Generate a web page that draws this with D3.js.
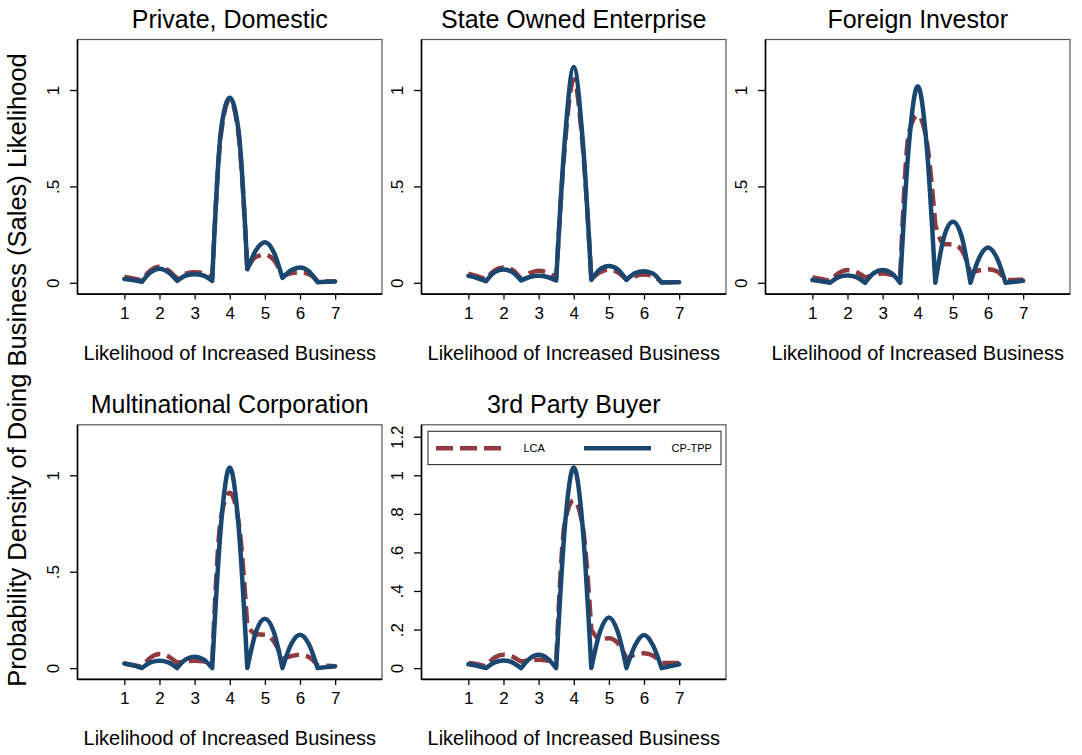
<!DOCTYPE html>
<html>
<head>
<meta charset="utf-8">
<script src="https://cdn.jsdelivr.net/npm/d3@7"></script>
<style>
  body { margin: 0; background: #fff; }
  svg { display: block; }
  text { font-family: "Liberation Sans", Arial, Helvetica, sans-serif; fill: #000; }
</style>
</head>
<body>
<svg id="chart" width="1082" height="755"></svg>
<script>
// Evaluation grid of the response scale (quarter steps from 1 to 7)
const gridX = [1, 1.25, 1.5, 1.75, 2, 2.25, 2.5, 2.75, 3, 3.25, 3.5, 3.75, 4,
               4.25, 4.5, 4.75, 5, 5.25, 5.5, 5.75, 6, 6.25, 6.5, 6.75, 7];

const panelTitles = ["Private, Domestic", "State Owned Enterprise", "Foreign Investor",
                     "Multinational Corporation", "3rd Party Buyer"];

// Density estimates per buyer type
const lcaPrivate = [0.030, 0.022, 0.012, 0.065, 0.083, 0.065, 0.022, 0.048, 0.055, 0.050, 0.025, 0.770, 0.950,
                    0.770, 0.070, 0.135, 0.145, 0.120, 0.035, 0.050, 0.054, 0.045, 0.010, 0.008, 0.007];
const tppPrivate = [0.020, 0.015, 0.005, 0.055, 0.073, 0.055, 0.010, 0.038, 0.045, 0.038, 0.010, 0.790, 0.960,
                    0.790, 0.070, 0.170, 0.210, 0.160, 0.025, 0.065, 0.080, 0.060, 0.003, 0.005, 0.007];

const lcaState = [0.048, 0.035, 0.017, 0.065, 0.080, 0.068, 0.020, 0.050, 0.062, 0.055, 0.024, 0.720, 1.055,
                  0.720, 0.020, 0.055, 0.069, 0.055, 0.017, 0.035, 0.043, 0.035, 0.003, 0.003, 0.003];
const tppState = [0.036, 0.025, 0.008, 0.055, 0.069, 0.055, 0.012, 0.030, 0.036, 0.030, 0.012, 0.750, 1.120,
                  0.750, 0.015, 0.070, 0.087, 0.070, 0.015, 0.050, 0.060, 0.048, 0.002, 0.003, 0.003];

const lcaForeign = [0.028, 0.020, 0.010, 0.050, 0.066, 0.055, 0.028, 0.040, 0.048, 0.042, 0.030, 0.780, 0.870,
                    0.740, 0.300, 0.200, 0.200, 0.170, 0.050, 0.065, 0.070, 0.060, 0.014, 0.015, 0.017];
const tppForeign = [0.014, 0.008, 0.000, 0.030, 0.038, 0.030, 0.000, 0.050, 0.066, 0.050, 0.000, 0.720, 1.020,
                    0.720, 0.000, 0.240, 0.317, 0.240, 0.000, 0.130, 0.183, 0.130, 0.000, 0.005, 0.010];

const lcaMultinational = [0.024, 0.015, 0.007, 0.055, 0.073, 0.060, 0.028, 0.035, 0.038, 0.035, 0.028, 0.780, 0.910,
                          0.760, 0.220, 0.175, 0.173, 0.140, 0.048, 0.062, 0.069, 0.058, 0.014, 0.012, 0.010];
const tppMultinational = [0.024, 0.015, 0.000, 0.030, 0.038, 0.030, 0.000, 0.045, 0.059, 0.045, 0.000, 0.740, 1.040,
                          0.740, 0.000, 0.190, 0.256, 0.190, 0.000, 0.125, 0.173, 0.125, 0.000, 0.005, 0.010];

const lcaBuyer = [0.026, 0.020, 0.009, 0.055, 0.069, 0.060, 0.034, 0.040, 0.043, 0.040, 0.034, 0.760, 0.870,
                  0.740, 0.200, 0.150, 0.155, 0.130, 0.050, 0.070, 0.077, 0.065, 0.026, 0.026, 0.026];
const tppBuyer = [0.020, 0.012, 0.000, 0.030, 0.040, 0.030, 0.000, 0.050, 0.069, 0.050, 0.000, 0.740, 1.040,
                  0.740, 0.000, 0.190, 0.263, 0.190, 0.000, 0.120, 0.172, 0.120, 0.000, 0.010, 0.020];

const xTicks = [1, 2, 3, 4, 5, 6, 7];
const yTicksHalf = [0, 0.5, 1];
const yTickLabelsHalf = ["0", ".5", "1"];
const yTicksFine = [0, 0.2, 0.4, 0.6, 0.8, 1, 1.2];
const yTickLabelsFine = ["0", ".2", ".4", ".6", ".8", "1", "1.2"];
const legendLabels = ["LCA", "CP-TPP"];

const xTitle = "Likelihood of Increased Business";
const yTitle = "Probability Density of Doing Business (Sales) Likelihood";

const colorLCA = "#903a40";
const colorTPP = "#1a476f";

// Layout
const colLeft = [77.5, 421.5, 765.5];
const rowTop = [39.5, 424.8];
const plotW = 304.5, plotH = 254.6;

const panels = [
  { title: panelTitles[0], lca: lcaPrivate, tpp: tppPrivate, col: 0, row: 0, fine: false },
  { title: panelTitles[1], lca: lcaState, tpp: tppState, col: 1, row: 0, fine: false },
  { title: panelTitles[2], lca: lcaForeign, tpp: tppForeign, col: 2, row: 0, fine: false },
  { title: panelTitles[3], lca: lcaMultinational, tpp: tppMultinational, col: 0, row: 1, fine: false },
  { title: panelTitles[4], lca: lcaBuyer, tpp: tppBuyer, col: 1, row: 1, fine: true, legend: true }
];

const svg = d3.select("#chart");

// Build a path through the grid that is smooth within each unit bump and
// keeps the sharp corners at the half-step points.
function bumpPath(values, x, y) {
  const pts = gridX.map((g, i) => [x(g), y(values[i])]);
  const line = d3.line().curve(d3.curveMonotoneX);
  const cuts = [];
  gridX.forEach((g, i) => { if (i > 0 && i < gridX.length - 1 && Math.abs(g % 1 - 0.5) < 1e-9) cuts.push(i); });
  cuts.push(pts.length - 1);
  let d = "", start = 0;
  cuts.forEach(c => {
    const seg = line(pts.slice(start, c + 1));
    d += start === 0 ? seg : seg.replace(/^M/, "L");
    start = c;
  });
  return d;
}

panels.forEach(p => {
  const left = colLeft[p.col], top = rowTop[p.row];
  const bottom = top + plotH, right = left + plotW;
  const x = d3.scaleLinear().domain([-1 / 3, 8 + 1 / 3]).range([left, right]);
  const y = d3.scaleLinear().domain([-0.0586, 1.262]).range([bottom, top]);
  const g = svg.append("g");

  // plot region outline
  g.append("rect")
    .attr("x", left).attr("y", top).attr("width", plotW).attr("height", plotH)
    .attr("fill", "#fff").attr("stroke", "#555").attr("stroke-width", 1.2);

  // curves
  g.append("path")
    .attr("d", bumpPath(p.lca, x, y))
    .attr("fill", "none").attr("stroke", colorLCA).attr("stroke-width", 4.5)
    .attr("stroke-dasharray", "17,7").attr("stroke-linejoin", "round");
  g.append("path")
    .attr("d", bumpPath(p.tpp, x, y))
    .attr("fill", "none").attr("stroke", colorTPP).attr("stroke-width", 4.5)
    .attr("stroke-linejoin", "round").attr("stroke-linecap", "round");

  // y axis
  const yt = p.fine ? yTicksFine : yTicksHalf;
  const ytl = p.fine ? yTickLabelsFine : yTickLabelsHalf;
  const yAxis = g.append("g").attr("transform", `translate(${left},0)`)
    .call(d3.axisLeft(y).tickValues(yt).tickSize(7.5).tickFormat((d, i) => ytl[i]));
  yAxis.select(".domain").remove();
  yAxis.selectAll(".tick line").attr("stroke", "#000").attr("stroke-width", 1.3);
  yAxis.selectAll(".tick text")
    .attr("transform", "rotate(-90)")
    .attr("x", 0).attr("y", -19).attr("dy", null)
    .attr("text-anchor", "middle")
    .style("font-size", "17px").style("font-family", "'Liberation Sans', Arial, sans-serif");

  // x axis
  const xAxis = g.append("g").attr("transform", `translate(0,${bottom})`)
    .call(d3.axisBottom(x).tickValues(xTicks).tickSize(5.5).tickFormat(d3.format("d")));
  xAxis.select(".domain").remove();
  xAxis.selectAll(".tick line").attr("stroke", "#000").attr("stroke-width", 1.3);
  xAxis.selectAll(".tick text")
    .attr("y", 24.5).attr("dy", null)
    .style("font-size", "17px").style("font-family", "'Liberation Sans', Arial, sans-serif");

  // axis lines
  g.append("line").attr("x1", left).attr("x2", left).attr("y1", top).attr("y2", bottom)
    .attr("stroke", "#000").attr("stroke-width", 1.6);
  g.append("line").attr("x1", left).attr("x2", right).attr("y1", bottom).attr("y2", bottom)
    .attr("stroke", "#000").attr("stroke-width", 1.6);

  // titles
  g.append("text")
    .attr("x", (left + right) / 2).attr("y", top - 11.5)
    .attr("text-anchor", "middle").style("font-size", "25px")
    .text(p.title);
  g.append("text")
    .attr("x", (left + right) / 2).attr("y", bottom + 66)
    .attr("text-anchor", "middle").style("font-size", "20px")
    .text(xTitle);

  // legend
  if (p.legend) {
    const lx = left + 6.5, ly = top + 6.5, lw = 293, lh = 33.3, cy = ly + 17;
    const lg = g.append("g");
    lg.append("rect").attr("x", lx).attr("y", ly).attr("width", lw).attr("height", lh)
      .attr("fill", "#fff").attr("stroke", "#333").attr("stroke-width", 1.1);
    lg.append("line").attr("x1", lx + 8).attr("x2", lx + 73).attr("y1", cy).attr("y2", cy)
      .attr("stroke", colorLCA).attr("stroke-width", 4.5).attr("stroke-dasharray", "17,7");
    lg.append("text").attr("x", lx + 95.5).attr("y", cy + 4).style("font-size", "11px").text(legendLabels[0]);
    lg.append("line").attr("x1", lx + 156).attr("x2", lx + 223).attr("y1", cy).attr("y2", cy)
      .attr("stroke", colorTPP).attr("stroke-width", 4.5);
    lg.append("text").attr("x", lx + 243.5).attr("y", cy + 4).style("font-size", "11px").text(legendLabels[1]);
  }
});

// shared y title
svg.append("text")
  .attr("transform", "translate(25.5,370) rotate(-90)")
  .attr("text-anchor", "middle").style("font-size", "25.5px")
  .text(yTitle);
</script>
</body>
</html>
